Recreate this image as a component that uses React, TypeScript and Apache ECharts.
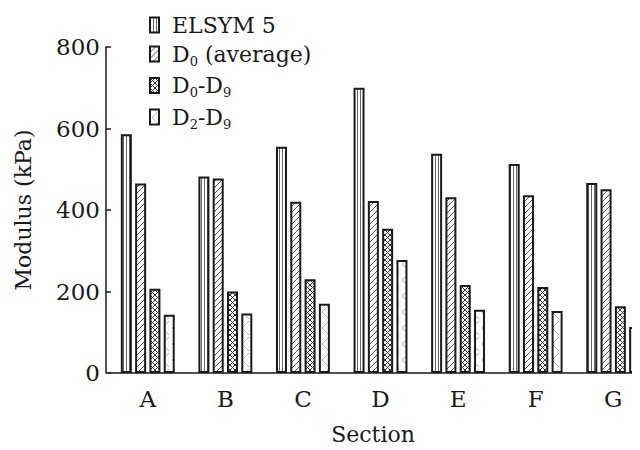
import React, { useEffect, useRef } from "react";
import * as echarts from "echarts";

const sections = ["A", "B", "C", "D", "E", "F", "G"];
const seriesNames = ["ELSYM 5", "D0 (average)", "D0-D9", "D2-D9"];
const elsym5 = [586, 482, 555, 700, 538, 513, 466];
const d0Average = [465, 477, 420, 422, 431, 436, 451];
const d0ToD9 = [207, 200, 230, 354, 216, 211, 164];
const d2ToD9 = [143, 146, 170, 277, 155, 152, 113];
const yTicks = { min: 0, max: 800, interval: 200 };

const FONT = "DejaVu Serif";
const INK = "#1a1a1a";

// Hatch fills painted on small canvases and tiled as ECharts patterns
function makeCanvas(w: number, h: number, draw: (ctx: CanvasRenderingContext2D) => void) {
  const c = document.createElement("canvas");
  c.width = w;
  c.height = h;
  const ctx = c.getContext("2d")!;
  ctx.fillStyle = "#ffffff";
  ctx.fillRect(0, 0, w, h);
  draw(ctx);
  return c;
}

function verticalLines() {
  return makeCanvas(3, 4, (ctx) => {
    ctx.fillStyle = "#666";
    ctx.fillRect(0, 0, 1, 4);
  });
}

function diagonalLines() {
  return makeCanvas(6, 6, (ctx) => {
    ctx.strokeStyle = "#555";
    ctx.lineWidth = 1;
    ctx.beginPath();
    ctx.moveTo(-1, 7);
    ctx.lineTo(7, -1);
    ctx.moveTo(-1, 1);
    ctx.lineTo(1, -1);
    ctx.moveTo(5, 7);
    ctx.lineTo(7, 5);
    ctx.stroke();
  });
}

function crossLines() {
  return makeCanvas(5, 5, (ctx) => {
    ctx.strokeStyle = "#333";
    ctx.lineWidth = 1;
    ctx.beginPath();
    ctx.moveTo(0, 5);
    ctx.lineTo(5, 0);
    ctx.moveTo(0, 0);
    ctx.lineTo(5, 5);
    ctx.stroke();
  });
}

function chevrons() {
  return makeCanvas(10, 16, (ctx) => {
    ctx.strokeStyle = "#b5b5b5";
    ctx.lineWidth = 1;
    ctx.beginPath();
    ctx.moveTo(9, 1);
    ctx.lineTo(2, 8);
    ctx.lineTo(9, 15);
    ctx.stroke();
  });
}

function legendLabel(name: string) {
  switch (name) {
    case "D0 (average)":
      return "{t|D}{s|0}{t| (average)}";
    case "D0-D9":
      return "{t|D}{s|0}{t|-D}{s|9}";
    case "D2-D9":
      return "{t|D}{s|2}{t|-D}{s|9}";
    default:
      return "{t|" + name + "}";
  }
}

export default function App() {
  const ref = useRef<HTMLDivElement>(null);

  useEffect(() => {
    if (!ref.current) return;
    const chart = echarts.init(ref.current, null, { renderer: "svg" });
    const fills = [verticalLines(), diagonalLines(), crossLines(), chevrons()];
    const values = [elsym5, d0Average, d0ToD9, d2ToD9];

    chart.setOption({
      animation: false,
      backgroundColor: "#ffffff",
      // the last section runs past the right edge of the frame
      grid: { left: 109, top: 47, bottom: 74, width: 543, containLabel: false },
      legend: {
        orient: "vertical",
        left: 144,
        top: 9,
        itemWidth: 9,
        itemHeight: 15,
        itemGap: 7,
        icon: "rect",
        data: seriesNames,
        formatter: legendLabel,
        textStyle: {
          padding: [0, 0, 0, 8],
          rich: {
            t: { fontFamily: FONT, fontSize: 22, color: INK, lineHeight: 27 },
            s: {
              fontFamily: FONT,
              fontSize: 13,
              color: INK,
              lineHeight: 14,
              verticalAlign: "bottom",
            },
          },
        },
      },
      xAxis: {
        type: "category",
        data: sections,
        name: "Section",
        nameLocation: "middle",
        nameGap: 50,
        nameTextStyle: {
          fontFamily: FONT,
          fontSize: 22,
          color: INK,
          padding: [0, 15, 0, 0],
        },
        axisLine: { lineStyle: { color: INK, width: 1.5 } },
        axisTick: { show: false },
        axisLabel: { fontFamily: FONT, fontSize: 23, color: INK, margin: 14 },
        splitLine: { show: false },
      },
      yAxis: {
        type: "value",
        min: yTicks.min,
        max: yTicks.max,
        interval: yTicks.interval,
        offset: 3,
        name: "Modulus (kPa)",
        nameLocation: "middle",
        nameGap: 72,
        nameTextStyle: { fontFamily: FONT, fontSize: 22, color: INK },
        axisLine: { show: true, lineStyle: { color: INK, width: 1.5 } },
        axisTick: { show: true, inside: true, length: 5, lineStyle: { color: INK, width: 1.5 } },
        axisLabel: { fontFamily: FONT, fontSize: 23, color: INK, margin: 6 },
        splitLine: { show: false },
      },
      series: seriesNames.map((name, i) => ({
        name,
        type: "bar",
        data: values[i],
        barWidth: 11,
        barGap: "30%",
        itemStyle: {
          color: { image: fills[i], repeat: "repeat" },
          borderColor: INK,
          borderWidth: 2,
        },
        emphasis: { disabled: true },
      })),
    });

    return () => chart.dispose();
  }, []);

  return (
    <div style={{ width: 640, height: 450, margin: -8, overflow: "hidden" }}>
      <div ref={ref} style={{ width: 670, height: 450 }} />
    </div>
  );
}
